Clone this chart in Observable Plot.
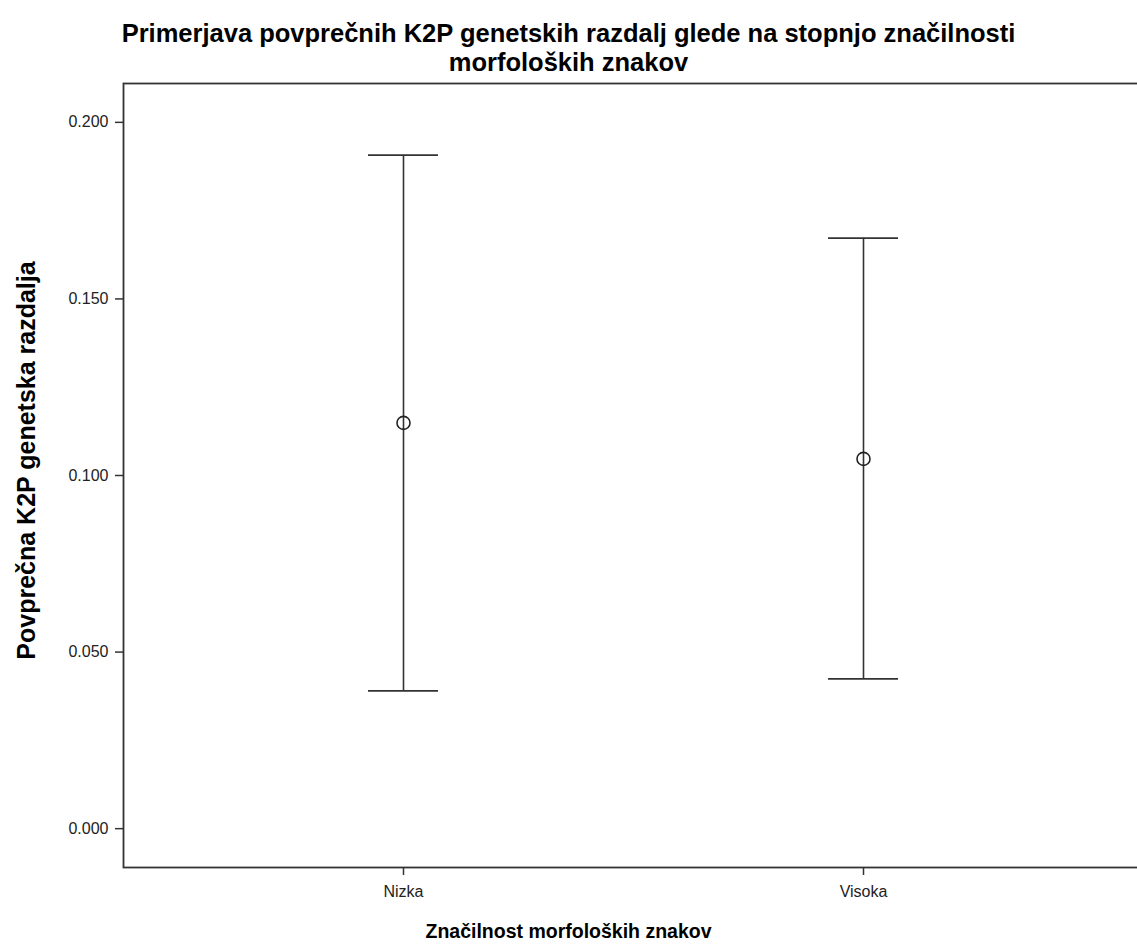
<!DOCTYPE html>
<html><head><meta charset="utf-8">
<script src="https://cdn.jsdelivr.net/npm/d3@7"></script>
<script src="https://cdn.jsdelivr.net/npm/@observablehq/plot@0.6"></script>
<style>
body{margin:0;background:#fff;}
#title{height:78px;box-sizing:border-box;padding-top:19px;text-align:center;font:bold 25.5px "Liberation Sans",Arial,sans-serif;line-height:29px;color:#000;}
#title div{height:29px;}
</style></head><body>
<div id="title"><div>Primerjava povprečnih K2P genetskih razdalj glede na stopnjo značilnosti</div><div>morfoloških znakov</div></div>
<div id="chart"></div>
<script>
const categories = ["Nizka", "Visoka"];
const means = [0.1149, 0.1047];
const lower = [0.0390, 0.0424];
const upper = [0.1907, 0.1672];
const yTicks = [0, 0.05, 0.1, 0.15, 0.2];
const xTitle = "Značilnost morfoloških znakov";
const yTitle = "Povprečna K2P genetska razdalja";

const data = categories.map((c, i) => ({cat: c, mean: means[i], lo: lower[i], hi: upper[i]}));

const plot = Plot.plot({
  width: 1137, height: 869,
  marginLeft: 123, marginRight: 0, marginTop: 5, marginBottom: 80,
  style: {fontFamily: "'Liberation Sans', Arial, sans-serif", fontSize: "16px", color: "#222", background: "#fff", overflow: "visible"},
  x: {type: "band", domain: categories, paddingInner: 0.848, paddingOuter: 0.526, align: 0.506, label: null},
  y: {domain: [-0.011, 0.211], label: null},
  marks: [
    Plot.frame({stroke: "#333", strokeWidth: 1.8, insetRight: -5}),
    Plot.axisY({ticks: yTicks, tickFormat: d3.format(".3f"), tickSize: 8, tickPadding: 7, stroke: "#333", strokeWidth: 1.5, fill: "#222", fontSize: 16, label: null}),
    Plot.axisX({tickSize: 8, tickPadding: 10, stroke: "#333", strokeWidth: 1.5, fill: "#222", fontSize: 16, label: null}),
    Plot.ruleX(data, {x: "cat", y1: "lo", y2: "hi", stroke: "#333", strokeWidth: 1.6}),
    Plot.tickY(data, {x: "cat", y: "hi", stroke: "#333", strokeWidth: 1.8}),
    Plot.tickY(data, {x: "cat", y: "lo", stroke: "#333", strokeWidth: 1.8}),
    Plot.dot(data, {x: "cat", y: "mean", r: 6.5, stroke: "#222", strokeWidth: 1.6, fill: "none"}),
    Plot.text([xTitle], {text: d => d, frameAnchor: "bottom", textAnchor: "middle", dx: -62, dy: 70, fontWeight: "bold", fontSize: 19.5, fill: "#000"}),
    Plot.text([yTitle], {text: d => d, frameAnchor: "left", textAnchor: "middle", dx: -97, dy: -15, rotate: -90, fontWeight: "bold", fontSize: 25, fill: "#000"})
  ]
});
document.getElementById("chart").appendChild(plot);
</script>
</body></html>
